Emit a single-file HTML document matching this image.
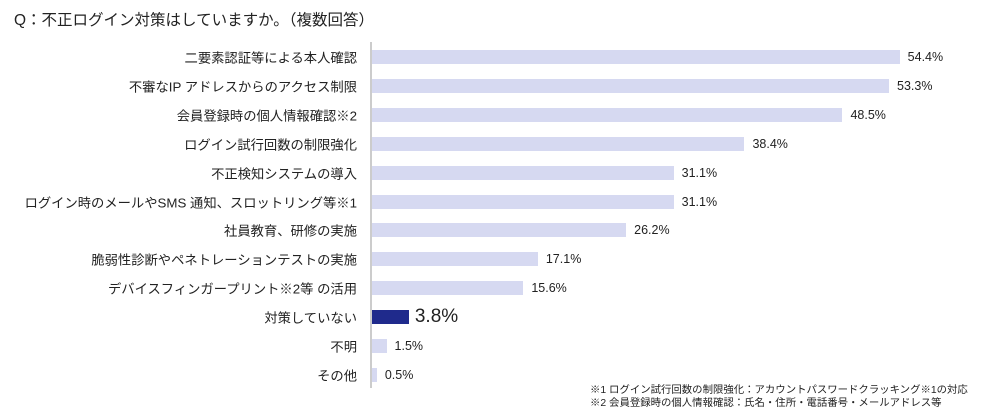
<!DOCTYPE html>
<html><head><meta charset="utf-8"><style>
body{margin:0;width:1000px;height:416px;background:#fff;font-family:"Liberation Sans","Noto Sans CJK JP",sans-serif;color:#222;position:relative;overflow:hidden}
.t{position:absolute;white-space:nowrap}
.lab{position:absolute;right:643px;font-size:13.3px;transform:translateY(-50%)}
.bar{position:absolute;left:372px;height:14px;background:#d6d9f1}
.val{position:absolute;font-size:12.5px;transform:translateY(-50%)}
</style></head><body>
<div class="t" style="left:14px;top:8px;font-size:15.5px">Q：不正ログイン対策はしていますか。（複数回答）</div>
<div style="position:absolute;left:370px;top:42px;width:2px;height:346px;background:#ccc"></div>
<div id="c"></div>
<div class="t" style="left:590px;top:384px;font-size:10.4px;line-height:13px">※1 ログイン試行回数の制限強化：アカウントパスワードクラッキング※1の対応<br>※2 会員登録時の個人情報確認：氏名・住所・電話番号・メールアドレス等</div>
<script>
var d=[["二要素認証等による本人確認",54.4],["不審なIP アドレスからのアクセス制限",53.3],["会員登録時の個人情報確認※2",48.5],["ログイン試行回数の制限強化",38.4],["不正検知システムの導入",31.1],["ログイン時のメールやSMS 通知、スロットリング等※1",31.1],["社員教育、研修の実施",26.2],["脆弱性診断やペネトレーションテストの実施",17.1],["デバイスフィンガープリント※2等 の活用",15.6],["対策していない",3.8],["不明",1.5],["その他",0.5]];
var h="";d.forEach(function(r,i){var y=57+i*28.9,w=r[1]*9.7,dk=i==9;
h+='<div class="lab" style="top:'+y+'px">'+r[0]+'</div>';
h+='<div class="bar" style="top:'+(y-7)+'px;width:'+w+'px;'+(dk?'background:#1f2a8c':'')+'"></div>';
h+='<div class="val" style="top:'+y+'px;left:'+(372+w+(dk?6:8))+'px;'+(dk?'font-size:19px':'')+'">'+r[1].toFixed(1)+'%</div>';});
document.getElementById("c").innerHTML=h;
</script>
</body></html>
